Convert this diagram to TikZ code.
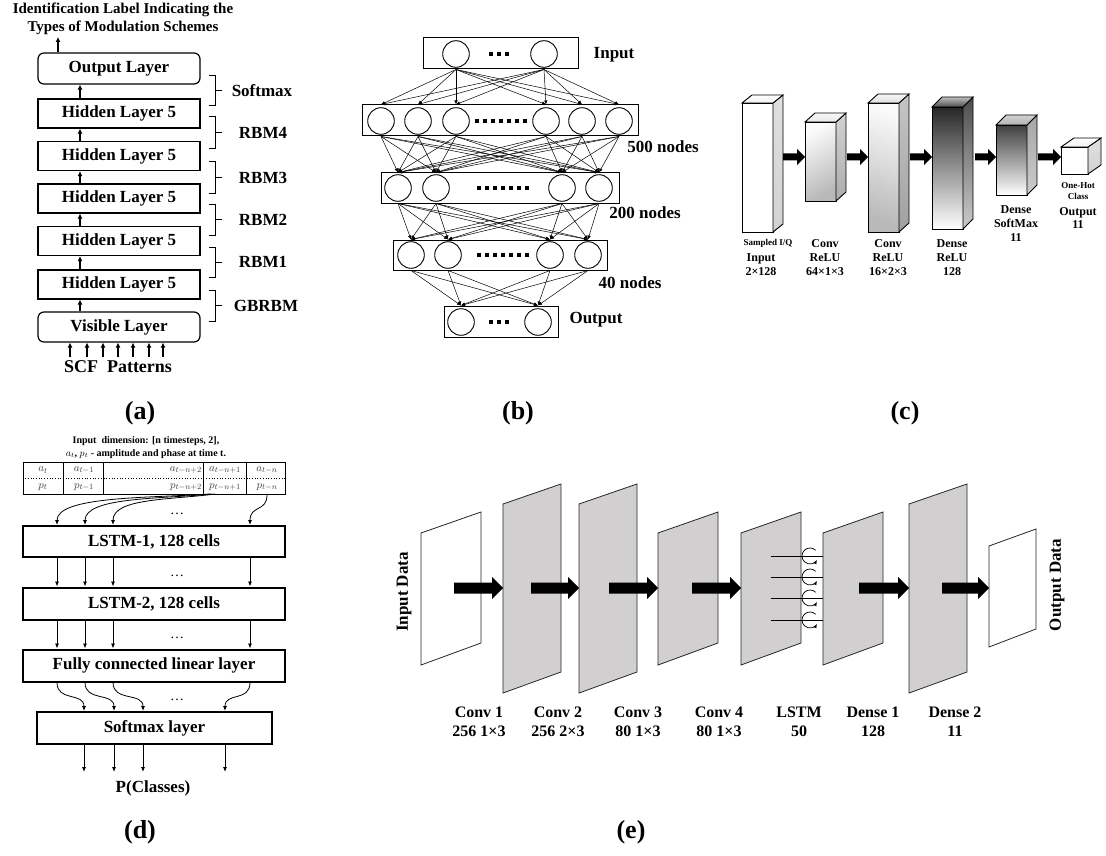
\documentclass[tikz,border=0pt]{standalone}
\usepackage{fontspec}
\setmainfont{Liberation Serif}
\usetikzlibrary{arrows.meta,calc}
\newcommand{\myfs}[1]{\fontsize{#1}{#1}\selectfont\bfseries}
% 3D block: x y w h dx dy(up) front side top
\newcommand{\myblk}[9]{%
  \shadedraw[line width=0.9pt,#7] (#1,#2) rectangle (#1+#3,#2+#4);
  \shadedraw[line width=0.9pt,#8] (#1+#3,#2) -- (#1+#3+#5,#2-#6) -- (#1+#3+#5,#2+#4-#6) -- (#1+#3,#2+#4) -- cycle;
  \shadedraw[line width=0.9pt,#9] (#1,#2) -- (#1+#5,#2-#6) -- (#1+#3+#5,#2-#6) -- (#1+#3,#2) -- cycle;}
% block arrow: x0 x1 y shafthalf headhalf headlen
\newcommand{\mybarr}[6]{%
  \fill (#1,#3-#4) -- (#2-#6,#3-#4) -- (#2-#6,#3-#5) -- (#2,#3) -- (#2-#6,#3+#5) -- (#2-#6,#3+#4) -- (#1,#3+#4) -- cycle;}
% plane: xl ytl ybl xr ytr ybr fill
\newcommand{\myplane}[7]{%
  \filldraw[fill=#7,draw=black!85,line width=0.8pt] (#1,#2) -- (#4,#5) -- (#4,#6) -- (#1,#3) -- cycle;}
\newcommand{\mybrace}[2]{%
  \draw[line width=1pt] (209,#1) -- (215,#1) -- (215,#2) -- (209,#2);
  \draw[line width=1pt] (215,{(#1+#2)/2}) -- (222,{(#1+#2)/2});}
\definecolor{planegray}{RGB}{210,207,208}
\begin{document}
\begin{tikzpicture}[x=1pt,y=-1pt,font=\bfseries,
  every node/.style={inner sep=0pt},
  lay/.style={draw,line width=1.2pt,minimum width=162pt,minimum height=29pt,font=\myfs{17}},
  aarr/.style={-{Latex[length=5pt,width=5pt]},line width=1.3pt},
  bbox/.style={draw,line width=1pt},
  circ/.style={draw,circle,minimum size=26.6pt,line width=0.9pt},
  barr/.style={-{Latex[length=4pt,width=3.5pt]},line width=0.5pt},
  lab/.style={font=\myfs{17}},
  dbox/.style={draw,line width=2pt,minimum width=262pt,minimum height=31pt,font=\myfs{17}},
  darr/.style={-{Latex[length=5pt,width=4pt]},line width=0.8pt},
  cell/.style={font=\fontsize{11}{11}\selectfont\mdseries,text=black!75},
  plab/.style={font=\myfs{26}},
  clab/.style={font=\fontsize{12}{14}\selectfont\bfseries,align=center},
  elab/.style={font=\fontsize{16}{19}\selectfont\bfseries,align=center},
  dotsl/.style={line width=3.5pt,dash pattern=on 4pt off 4pt}
]
\useasboundingbox (0,0) rectangle (1106,856);
\fill[white] (0,0) rectangle (1106,856);

%================ (a)
\node[font=\fontsize{15}{18}\selectfont\bfseries,align=center] (atitle) at (123,19) {Identification Label Indicating the\\Types of Modulation Schemes};
\node[lay,rounded corners=6pt,minimum height=31pt] (aout) at (119,68.5) {Output Layer};
\node[lay] (ah5) at (119,113.5) {Hidden Layer 5};
\node[lay] (ah4) at (119,156) {Hidden Layer 5};
\node[lay] (ah3) at (119,198.5) {Hidden Layer 5};
\node[lay] (ah2) at (119,241) {Hidden Layer 5};
\node[lay] (ah1) at (119,284.5) {Hidden Layer 5};
\node[lay,rounded corners=6pt,minimum height=30pt] (avis) at (119,327) {Visible Layer};
\coordinate (ax) at (80,0);
\coordinate (atop) at (58,37);
\draw[aarr] (aout.north -| atop) -- (atop);
\foreach \a/\b in {ah5/aout,ah4/ah5,ah3/ah4,ah2/ah3,ah1/ah2,avis/ah1}
  \draw[aarr] (\a.north -| ax) -- (\b.south -| ax);
\foreach \x in {70,87,103,118,133,149,163}{
  \coordinate (ai\x) at (\x,357);
  \draw[aarr] (ai\x) -- (ai\x |- avis.south);}
\node[font=\myfs{18}] (ascf) at (118,367) {SCF\ \ Patterns};
\mybrace{76}{106}
\mybrace{117}{149}
\mybrace{162}{193}
\mybrace{204}{235}
\mybrace{247}{277}
\mybrace{290}{321}
\node[lab] (asm) at (262,91) {Softmax};
\node[lab] (ar4) at (263,133) {RBM4};
\node[lab] (ar3) at (263,177.5) {RBM3};
\node[lab] (ar2) at (263,219.5) {RBM2};
\node[lab] (ar1) at (263,262) {RBM1};
\node[lab] (agb) at (266,305.5) {GBRBM};
\node[plab] (pa) at (140,413) {(a)};

%================ (b)
\node[bbox,minimum width=155pt,minimum height=31pt] (bin) at (500.5,53.5) {};
\node[bbox,minimum width=276pt,minimum height=31pt] (bf) at (500,120.5) {};
\node[bbox,minimum width=238pt,minimum height=30pt] (bt) at (500,188) {};
\node[bbox,minimum width=214pt,minimum height=30pt] (bq) at (500,255) {};
\node[bbox,minimum width=114pt,minimum height=31pt] (bo) at (501,321.5) {};
\foreach \n/\x in {1/456,2/544} \node[circ] (bi\n) at (\x,54) {};
\foreach \n/\x in {1/381,2/418,3/456,4/546,5/582,6/619} \node[circ] (bf\n) at (\x,121) {};
\foreach \n/\x in {1/398,2/436,3/562,4/599} \node[circ] (bt\n) at (\x,188) {};
\foreach \n/\x in {1/411,2/448,3/550,4/588} \node[circ] (bq\n) at (\x,255) {};
\foreach \n/\x in {1/461,2/538} \node[circ] (bo\n) at (\x,322) {};
\draw[dotsl] (489,54) -- (509,54);
\draw[dotsl] (475,121) -- (527,121);
\draw[dotsl] (477,188) -- (529,188);
\draw[dotsl] (477,255) -- (529,255);
\draw[dotsl] (489,322) -- (509,322);
\foreach \s in {1,2} \foreach \t in {1,...,6}
  \draw[barr] (bi\s |- bin.south) -- (bf\t |- bf.north);
\foreach \s in {1,...,6} \foreach \t in {1,...,4}
  \draw[barr] (bf\s |- bf.south) -- (bt\t |- bt.north);
\foreach \s in {1,...,4} \foreach \t in {1,...,4}
  \draw[barr] (bt\s |- bt.south) -- (bq\t |- bq.north);
\foreach \s in {1,...,4} \foreach \t in {1,2}
  \draw[barr] (bq\s |- bq.south) -- (bo\t |- bo.north);
\node[lab] (binl) at (614,55) {Input};
\node[lab] (bfl) at (663,147) {500 nodes};
\node[lab] (btl) at (645,213) {200 nodes};
\node[lab] (bql) at (630,283) {40 nodes};
\node[lab] (bol) at (596,320) {Output};
\node[plab] (pb) at (518,413) {(b)};

%================ (c)
\myblk{742}{103}{31}{129}{10}{8}{top color=white,bottom color=white}{top color=gray!25,bottom color=gray!35}{top color=white,bottom color=gray!10}
\myblk{805}{122}{31}{79}{10}{9}{top color=gray!3,bottom color=gray!55,shading angle=30}{top color=gray!35,bottom color=gray!65}{top color=gray!5,bottom color=gray!20}
\myblk{868}{103}{31}{129}{10}{9}{top color=gray!5,bottom color=gray!55,shading angle=-20}{top color=gray!45,bottom color=gray!75}{top color=gray!8,bottom color=gray!25}
\myblk{932}{107}{31}{122}{10}{10}{top color=black!85,middle color=gray!45,bottom color=white}{top color=black!70,bottom color=gray!40}{top color=gray!50,bottom color=black!70}
\myblk{996}{125}{31}{70}{10}{10}{top color=black!75,middle color=gray!35,bottom color=white}{top color=gray!70,bottom color=gray!40}{top color=gray!35,bottom color=gray!60}
\myblk{1061}{147}{27}{27}{13}{9}{top color=white,bottom color=white}{top color=gray!25,bottom color=gray!35}{top color=white,bottom color=gray!10}
\mybarr{783}{805}{157}{3.5}{8}{8}
\mybarr{847}{868}{157}{3.5}{8}{8}
\mybarr{910}{932}{157}{3.5}{8}{8}
\mybarr{975}{996}{157}{3.5}{8}{8}
\mybarr{1038}{1061}{157}{3.5}{8}{8}
\node[font=\myfs{9}] (csq) at (768,243) {Sampled I/Q};
\node[clab] (cin) at (761,265) {Input\\2×128};
\node[clab] (cc1) at (825,258) {Conv\\ReLU\\64×1×3};
\node[clab] (cc2) at (888,258) {Conv\\ReLU\\16×2×3};
\node[clab] (cd1) at (952,258) {Dense\\ReLU\\128};
\node[clab] (cd2) at (1016,224) {Dense\\SoftMax\\11};
\node[font=\fontsize{9}{11}\selectfont\bfseries,align=center] (coh) at (1078,191.5) {One-Hot\\Class};
\node[font=\fontsize{12}{13}\selectfont\bfseries,align=center] (cout) at (1078,218.5) {Output\\11};
\node[plab] (pc) at (905,413) {(c)};

%================ (d)
\node[font=\fontsize{10}{13}\selectfont\bfseries,align=center] (dtitle) at (146,447.5) {Input\ \ dimension: [n timesteps, 2],\\$a_t$, $p_t$ - amplitude and phase at time t.};
\node[draw,line width=1pt,minimum width=262pt,minimum height=32pt] (dtab) at (154,478) {};
\foreach \x in {63,103,203,246} \draw[line width=1pt] (\x,462) -- (\x,494);
\draw[dotted,line width=0.7pt] (dtab.west) -- (dtab.east);
\node[cell] (ca1) at (43,470) {$a_t$};
\node[cell] (ca2) at (84,470) {$a_{t-1}$};
\node[cell,anchor=east] (ca3) at (202,470) {$a_{t-n+2}$};
\node[cell] (ca4) at (225,470) {$a_{t-n+1}$};
\node[cell] (ca5) at (267,470) {$a_{t-n}$};
\node[cell] (cp1) at (43,487) {$p_t$};
\node[cell] (cp2) at (84,487) {$p_{t-1}$};
\node[cell,anchor=east] (cp3) at (202,487) {$p_{t-n+2}$};
\node[cell] (cp4) at (225,487) {$p_{t-n+1}$};
\node[cell] (cp5) at (267,487) {$p_{t-n}$};
\node[dbox] (dl1) at (154,541.5) {LSTM-1, 128 cells};
\node[dbox,minimum height=32pt] (dl2) at (154,603.5) {LSTM-2, 128 cells};
\node[dbox,minimum height=32pt] (dfc) at (154,665.5) {Fully connected linear layer};
\node[dbox,minimum width=235pt,minimum height=32pt] (dsm) at (154.5,728) {Softmax layer};
\coordinate (dx1) at (57,0);
\coordinate (dx2) at (85,0);
\coordinate (dx3) at (113,0);
\coordinate (dx4) at (250,0);
\coordinate (dy1) at (84,0);
\coordinate (dy2) at (114,0);
\coordinate (dy3) at (143,0);
\coordinate (dy4) at (225,0);
\coordinate (ds1) at (210,494);
\coordinate (ds2) at (212,494);
\coordinate (ds3) at (215,494);
\coordinate (ds4) at (267,495);
\draw[darr] (ds1) .. controls (150,498) and (57,496) .. (dl1.north -| dx1);
\draw[darr] (ds2) .. controls (160,499) and (85,497) .. (dl1.north -| dx2);
\draw[darr] (ds3) .. controls (170,500) and (113,498) .. (dl1.north -| dx3);
\draw[darr] (ds4) .. controls (267,512) and (250,505) .. (dl1.north -| dx4);
\foreach \i in {1,...,4}{
  \draw[darr] (dl1.south -| dx\i) -- (dl2.north -| dx\i);
  \draw[darr] (dl2.south -| dx\i) -- (dfc.north -| dx\i);}
\draw[darr] (dfc.south -| dx1) .. controls (57,702) and (84,692) .. (dsm.north -| dy1);
\draw[darr] (dfc.south -| dx2) .. controls (85,702) and (114,692) .. (dsm.north -| dy2);
\draw[darr] (dfc.south -| dx3) .. controls (113,702) and (143,692) .. (dsm.north -| dy3);
\draw[darr] (dfc.south -| dx4) .. controls (250,702) and (225,692) .. (dsm.north -| dy4);
\foreach \i in {1,...,4}{
  \coordinate (de\i) at ($(dy\i)+(0,772)$);
  \draw[darr] (dsm.south -| dy\i) -- (de\i);}
\node[font=\fontsize{14}{14}\selectfont\mdseries] (dd1) at (177,514) {…};
\node[font=\fontsize{14}{14}\selectfont\mdseries] (dd2) at (177,576) {…};
\node[font=\fontsize{14}{14}\selectfont\mdseries] (dd3) at (177,638) {…};
\node[font=\fontsize{14}{14}\selectfont\mdseries] (dd4) at (177,700) {…};
\node[lab] (dpc) at (153,788) {P(Classes)};
\node[plab] (pd) at (140,832) {(d)};

%================ (e)
\myplane{421}{533}{665}{481}{512}{643}{white}
\myplane{503}{504}{693}{561}{484}{672}{planegray}
\myplane{579}{504}{693}{637}{484}{672}{planegray}
\myplane{658}{533}{665}{718}{512}{643}{planegray}
\myplane{741}{533}{665}{801}{512}{643}{planegray}
\myplane{823}{533}{665}{883}{512}{643}{planegray}
\myplane{909}{504}{693}{967}{484}{672}{planegray}
\myplane{989}{546}{647}{1036}{529}{629}{white}
\mybarr{454}{503}{588}{5.5}{11}{11}
\mybarr{531}{579}{588}{5.5}{11}{11}
\mybarr{609}{658}{588}{5.5}{11}{11}
\mybarr{692}{741}{588}{5.5}{11}{11}
\mybarr{859}{909}{588}{5.5}{11}{11}
\mybarr{942}{989}{588}{5.5}{11}{11}
\foreach \y in {556,577,598,620}{
  \draw[line width=0.9pt] (771,\y) -- (823,\y);
  \draw[line width=0.7pt,-{Latex[length=4pt,width=3.5pt]}] (810,\y) ++(5.66,-5.66) arc[start angle=-45,end angle=-330,radius=8];}
\node[lab,rotate=90] (ein) at (404,592) {Input Data};
\node[lab,rotate=90] (eout) at (1057,585) {Output Data};
\node[elab] (e1) at (479,721.5) {Conv 1\\256 1×3};
\node[elab] (e2) at (558,721.5) {Conv 2\\256 2×3};
\node[elab] (e3) at (638,721.5) {Conv 3\\80 1×3};
\node[elab] (e4) at (719,721.5) {Conv 4\\80 1×3};
\node[elab] (e5) at (799,721.5) {LSTM\\50};
\node[elab] (e6) at (873,721.5) {Dense 1\\128};
\node[elab] (e7) at (955,721.5) {Dense 2\\11};
\node[plab] (pe) at (631,832) {(e)};
\end{tikzpicture}
\end{document}
